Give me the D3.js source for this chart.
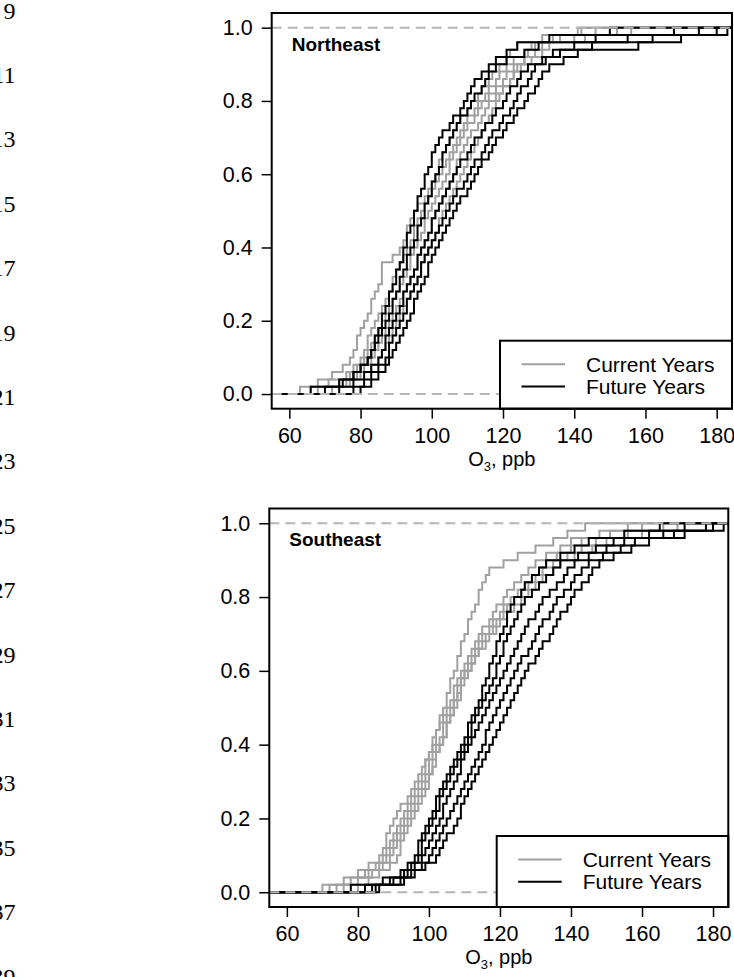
<!DOCTYPE html>
<html><head><meta charset="utf-8">
<script src="https://cdn.jsdelivr.net/npm/d3@7"></script>
<style>html,body{margin:0;padding:0;background:#fff;} svg{display:block;}</style>
</head><body>
<svg id="chart" width="734" height="977"></svg>
<script>
// ---------------- data ----------------
const lineNumbers = [9,11,13,15,17,19,21,23,25,27,29,31,33,35,37,39];
const xTicks = [60,80,100,120,140,160,180];
const yTicks = [0,0.2,0.4,0.6,0.8,1.0];
const regions = ["Northeast","Southeast"];
const seriesNames = ["Current Years","Future Years"];

// Northeast, current years (sorted daily O3, ppb)
const neCurrent = [
 [63,68,72,75,77,78,79,79,80,81,82,83,83,84,85,86,86,86,89,91,92,93,93,94,95,96,98,99,100,101,102,102,103,104,105,106,107,108,110,111,113,114,116,117,119,121,122,124,131,141],
 [66,71,76,78,80,81,82,82,83,84,85,86,87,88,89,89,90,91,92,93,94,95,95,96,97,98,99,100,101,102,103,104,105,106,107,108,109,110,112,113,115,116,118,119,121,123,126,128,136,146],
 [68,74,77,79,81,82,83,84,85,86,87,88,89,90,91,92,93,94,94,95,96,97,98,98,99,100,101,102,103,104,105,105,106,107,108,109,110,112,113,114,116,118,120,121,123,126,129,131,140,152],
 [70,76,79,81,83,84,85,86,87,88,89,90,91,92,93,94,95,96,96,97,98,99,100,100,101,102,103,104,105,106,107,107,108,109,110,111,113,114,115,116,118,120,122,123,125,128,131,133,143,156],
 [72,77,80,83,85,86,87,88,89,90,91,92,93,94,95,96,97,97,98,99,100,101,102,102,103,104,105,106,107,108,109,110,111,112,113,114,115,116,117,118,119,120,122,123,124,126,127,129,134,142]
];
// Northeast, future years
const neFuture = [
 [70,75,78,80,82,83,84,84,85,86,86,87,88,88,89,90,90,91,92,92,93,93,94,95,95,96,96,97,98,98,99,100,100,101,102,103,105,106,108,109,110,111,112,114,116,118,121,124,133,150],
 [66,74,78,80,82,83,84,85,86,87,88,89,89,90,91,91,92,93,93,94,95,96,96,97,98,98,99,100,100,101,102,103,103,104,105,106,107,108,110,111,112,114,115,116,118,121,126,130,146,168],
 [74,78,81,83,85,86,87,87,88,89,90,91,92,92,93,94,95,96,96,97,98,99,100,100,101,102,103,104,105,106,107,108,110,111,112,114,115,117,118,120,121,122,124,125,127,131,136,140,155,175],
 [78,81,83,85,87,88,88,89,90,91,92,93,93,94,95,96,97,97,98,99,100,101,102,103,104,105,106,107,109,110,111,112,114,115,116,117,119,120,122,123,124,125,127,128,129,132,134,158,170,183],
 [80,83,85,87,88,89,90,91,92,93,94,95,95,96,97,98,99,99,100,101,102,103,104,105,106,107,108,110,111,112,113,114,116,117,118,120,121,123,124,126,127,129,130,131,133,137,141,145,162,180]
];
// Southeast, current years
const seCurrent = [
 [72,78,82,85,87,88,89,90,91,92,93,94,95,96,97,98,99,99,100,101,101,102,103,103,104,105,105,106,106,107,108,108,109,109,110,111,111,112,113,114,114,115,116,117,121,125,130,135,139,144],
 [70,76,80,83,86,87,88,88,89,90,91,92,94,95,96,97,98,99,100,101,102,102,103,104,105,106,107,107,108,109,110,111,112,113,114,115,117,118,119,121,122,124,126,128,130,133,137,140,148,156],
 [76,80,83,86,88,89,90,91,92,93,94,95,96,97,98,99,100,100,101,102,103,104,104,105,106,107,108,108,109,110,111,112,113,114,115,117,118,120,121,123,125,127,129,131,133,136,140,143,151,160],
 [74,80,84,87,89,90,91,92,93,94,95,96,97,98,99,100,101,101,102,103,104,105,105,106,107,108,109,109,110,111,112,113,114,115,116,118,119,121,122,124,126,128,130,132,135,139,143,147,156,166],
 [80,83,86,89,91,92,92,93,94,95,96,97,98,99,100,100,101,102,102,103,104,105,105,106,107,107,108,109,109,110,112,113,114,116,117,119,120,122,124,126,128,130,132,135,137,141,146,150,160,170]
];
// Southeast, future years
const seFuture = [
 [78,87,92,94,96,97,97,98,99,100,101,102,102,103,104,105,106,107,108,109,110,111,111,112,113,114,115,115,116,117,117,118,119,119,120,121,122,122,123,124,126,127,129,131,133,137,141,145,155,165],
 [82,89,93,95,97,98,98,99,100,101,102,103,103,104,105,106,107,108,109,110,111,112,112,113,114,115,116,117,118,119,119,120,121,121,122,123,124,125,126,127,129,131,133,135,137,142,147,152,162,172],
 [84,90,94,96,98,99,100,101,102,103,104,104,105,106,107,108,109,109,110,111,112,113,114,115,116,117,118,119,120,121,122,123,124,125,126,127,128,130,131,132,134,136,138,139,141,145,150,155,166,178],
 [86,92,95,98,100,101,102,103,104,105,106,107,108,109,110,111,112,113,114,115,116,116,117,118,119,120,121,122,123,124,125,126,128,129,130,131,132,134,135,136,138,140,141,143,145,149,154,158,169,180],
 [85,93,96,99,102,103,104,105,107,108,109,109,110,111,112,113,114,115,116,117,118,119,120,121,122,123,124,125,126,127,128,130,131,132,134,135,136,137,139,140,141,143,145,146,148,152,157,162,172,183]
];

// ---------------- drawing ----------------
const svg = d3.select("#chart");
const sans = "'Liberation Sans', Arial, Helvetica, sans-serif";
const GRAY = "#a0a0a0", DASH = "#b5b5b5";

svg.append("g").selectAll("text").data(lineNumbers).join("text")
  .attr("x", 15.5).attr("y", (d, i) => 18.6 + 64.4 * i)
  .attr("text-anchor", "end")
  .attr("font-family", "'Liberation Serif','Times New Roman',serif")
  .attr("font-size", 24).attr("fill", "#000")
  .text(d => d);

const panels = [
  {name: regions[0], current: neCurrent, future: neFuture, left: 271.7, right: 732, top: 13, bottom: 408.7, legLeft: 500, legTop: 340.7},
  {name: regions[1], current: seCurrent, future: seFuture, left: 269.3, right: 728.3, top: 508.5, bottom: 907, legLeft: 496.7, legTop: 836}
];

panels.forEach((p, pi) => {
  const x = d3.scaleLinear().domain([55.05, 184.3]).range([p.left, p.right]);
  const y = d3.scaleLinear().domain([-0.04, 1.04]).range([p.bottom, p.top]);
  const g = svg.append("g");
  const clipId = "clip" + pi;
  g.append("clipPath").attr("id", clipId).append("rect")
    .attr("x", p.left).attr("y", p.top).attr("width", p.right - p.left).attr("height", p.bottom - p.top);
  const plot = g.append("g").attr("clip-path", `url(#${clipId})`);

  const line = d3.line().x(d => x(d[0])).y(d => y(d[1])).curve(d3.curveStepAfter);
  const ecdf = vals => {
    const s = vals.slice().sort((a, b) => a - b), n = s.length;
    const pts = [[x.domain()[0], 0]];
    s.forEach((v, i) => pts.push([v, (i + 1) / n]));
    pts.push([x.domain()[1], 1]);
    return pts;
  };
  const groups = [{data: p.current, color: GRAY}, {data: p.future, color: "#000"}];
  groups.forEach(gr => {
    plot.append("g").selectAll("path").data(gr.data).join("path")
      .attr("d", d => line(ecdf(d)))
      .attr("fill", "none").attr("stroke", gr.color).attr("stroke-width", 2)
      .attr("stroke-linejoin", "miter");
  });
  // dashed reference lines at 0 and 1
  plot.append("g").selectAll("line").data([0, 1]).join("line")
    .attr("x1", p.left).attr("x2", p.right)
    .attr("y1", d => y(d)).attr("y2", d => y(d))
    .attr("stroke", DASH).attr("stroke-width", 2).attr("stroke-dasharray", "10,6");

  // legend
  const lg = g.append("g");
  lg.append("rect").attr("x", p.legLeft).attr("y", p.legTop)
    .attr("width", p.right - p.legLeft).attr("height", p.bottom - p.legTop)
    .attr("fill", "#fff").attr("stroke", "#000").attr("stroke-width", 2);
  seriesNames.forEach((nm, i) => {
    const ly = p.legTop + 23.5 + i * 22.3;
    lg.append("line").attr("x1", p.legLeft + 21.5).attr("x2", p.legLeft + 65)
      .attr("y1", ly).attr("y2", ly)
      .attr("stroke", i === 0 ? GRAY : "#000").attr("stroke-width", 2);
    lg.append("text").attr("x", p.legLeft + 86).attr("y", ly + 7.5)
      .attr("font-family", sans).attr("font-size", 21).text(nm);
  });

  // frame
  g.append("rect").attr("x", p.left).attr("y", p.top)
    .attr("width", p.right - p.left).attr("height", p.bottom - p.top)
    .attr("fill", "none").attr("stroke", "#000").attr("stroke-width", 2);

  // axes
  const xa = g.append("g").attr("transform", `translate(0,${p.bottom})`)
    .call(d3.axisBottom(x).tickValues(xTicks).tickSize(10).tickPadding(9).tickFormat(d3.format("d")));
  const ya = g.append("g").attr("transform", `translate(${p.left},0)`)
    .call(d3.axisLeft(y).tickValues(yTicks).tickSize(10).tickPadding(9).tickFormat(d3.format(".1f")));
  [xa, ya].forEach(a => {
    a.select(".domain").remove();
    a.selectAll(".tick line").attr("stroke", "#000").attr("stroke-width", 1.5);
    a.selectAll(".tick text").attr("font-family", sans).attr("font-size", 21.5).attr("fill", "#000");
  });

  // region label
  g.append("text").attr("x", p.left + 20).attr("y", p.top + 37.7)
    .attr("font-family", sans).attr("font-size", 19).attr("font-weight", "bold").text(p.name);

  // x axis title
  const t = g.append("text").attr("x", (p.left + p.right) / 2).attr("y", p.bottom + 57)
    .attr("text-anchor", "middle").attr("font-family", sans).attr("font-size", 20);
  t.append("tspan").text("O");
  t.append("tspan").attr("font-size", 13).attr("dy", 5).text("3");
  t.append("tspan").attr("dy", -5).text(", ppb");
});
</script>
</body></html>
